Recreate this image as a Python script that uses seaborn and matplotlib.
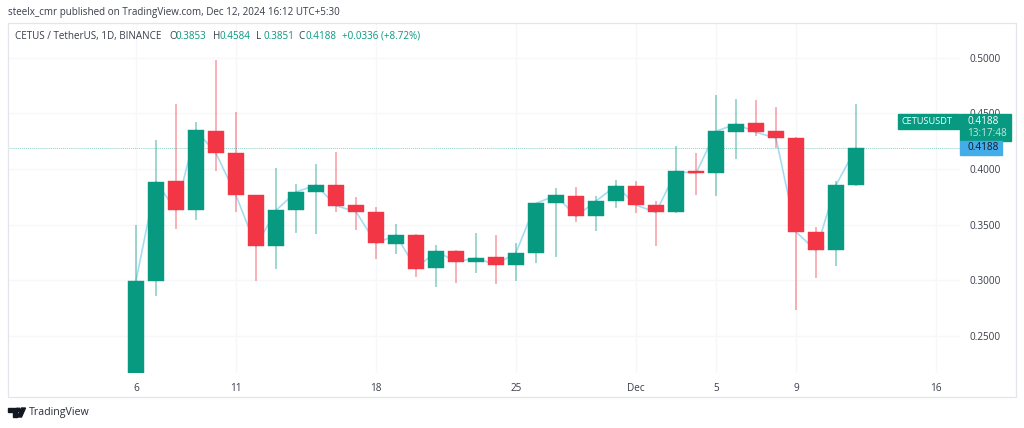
import matplotlib
matplotlib.use('Agg')
import matplotlib.pyplot as plt
from matplotlib.patches import Rectangle, Polygon
import pandas as pd
import seaborn as sns

# Daily candles, Nov 6 to Dec 12 2024
opens = [0.2168, 0.2994, 0.3891, 0.3628, 0.4343, 0.4143, 0.3763, 0.3311, 0.3628, 0.3790,
         0.3855, 0.3673, 0.3616, 0.3326, 0.3407, 0.3108, 0.3263, 0.3167, 0.3206, 0.3140,
         0.3245, 0.3691, 0.3757, 0.3574, 0.3712, 0.3849, 0.3676, 0.3610, 0.3978, 0.3960,
         0.4334, 0.4409, 0.4338, 0.4280, 0.3434, 0.3269, 0.3853]
highs = [0.3496, 0.4258, 0.4583, 0.4424, 0.4978, 0.4508, 0.3768, 0.4008, 0.3864, 0.4044,
         0.4149, 0.3745, 0.3661, 0.3508, 0.3416, 0.3317, 0.3275, 0.3422, 0.3407, 0.3332,
         0.3698, 0.3829, 0.3838, 0.3759, 0.3900, 0.3889, 0.3709, 0.4206, 0.4140, 0.4661,
         0.4627, 0.4616, 0.4556, 0.4289, 0.3478, 0.3891, 0.4584]
lows = [0.2168, 0.2859, 0.3463, 0.3541, 0.3984, 0.3613, 0.2996, 0.3101, 0.3425, 0.3413,
        0.3616, 0.3449, 0.3188, 0.3233, 0.3032, 0.2937, 0.2976, 0.3068, 0.2970, 0.2996,
        0.3158, 0.3206, 0.3523, 0.3445, 0.3652, 0.3607, 0.3311, 0.3601, 0.3766, 0.3757,
        0.4092, 0.4293, 0.4188, 0.2736, 0.3023, 0.3126, 0.3851]
closes = [0.2996, 0.3885, 0.3628, 0.4349, 0.4140, 0.3763, 0.3305, 0.3628, 0.3793, 0.3855,
          0.3670, 0.3616, 0.3332, 0.3407, 0.3104, 0.3263, 0.3167, 0.3200, 0.3140, 0.3248,
          0.3691, 0.3763, 0.3574, 0.3712, 0.3849, 0.3676, 0.3610, 0.3978, 0.3960, 0.4338,
          0.4403, 0.4329, 0.4277, 0.3434, 0.3269, 0.3855, 0.4188]
start_day = '2024-11-06'
x_tick_days = ['2024-11-06', '2024-11-11', '2024-11-18', '2024-11-25', '2024-12-01',
               '2024-12-05', '2024-12-09', '2024-12-16']
x_tick_labels = ['6', '11', '18', '25', 'Dec', '5', '9', '16']
y_ticks = [0.25, 0.30, 0.35, 0.40, 0.45, 0.50]
last_price = 0.4188

GREEN = '#089981'
RED = '#F23645'
TEXT = '#3a3e4a'
W, H = 1024, 428

df = pd.DataFrame({'open': opens, 'high': highs, 'low': lows, 'close': closes})
df['date'] = pd.date_range(start_day, periods=len(df))
up = df['close'] >= df['open']
df['color'] = up.map({True: GREEN, False: RED})

sns.set_theme(style='white')
plt.rcParams['font.family'] = ['Open Sans', 'DejaVu Sans']

fig = plt.figure(figsize=(W / 100, H / 100), dpi=100)
ax = fig.add_axes([8 / W, 1 - 373 / H, (960 - 8) / W, (373 - 23) / H])


def px(x, y):
    return x / W, 1 - y / H


def box(x0, y0, x1, y1, **kw):
    xf, yf = px(x0, y1)
    fig.patches.append(Rectangle((xf, yf), (x1 - x0) / W, (y1 - y0) / H,
                                 transform=fig.transFigure, figure=fig, **kw))


def label(x, y, s, color=TEXT, size=7.1, ha='left', **kw):
    xf, yf = px(x, y)
    fig.text(xf, yf, s, color=color, fontsize=size, ha=ha, va='center', zorder=8, **kw)


# close line sits behind the candles
sns.lineplot(data=df, x='date', y='close', color='#a6dcf2', lw=1.2, ax=ax, zorder=1)
ax.vlines(df['date'], df['low'], df['high'], colors=df['color'], lw=1.1, alpha=0.5, zorder=2)
ax.bar(df['date'], (df['close'] - df['open']).abs(), bottom=df[['open', 'close']].min(axis=1),
       width=0.78, color=df['color'], edgecolor=df['color'], lw=0.3, zorder=3)
ax.axhline(last_price, color=GREEN, lw=0.7, ls=(0, (1, 1)), alpha=0.45, zorder=1)

first = df['date'].iloc[0]
ax.set_xlim(first - pd.Timedelta(days=6.4), first + pd.Timedelta(days=41.2))
ax.set_ylim(0.2168, 0.531)
ax.set_xticks(pd.to_datetime(x_tick_days), x_tick_labels)
ax.set_yticks(y_ticks, [f'{v:.4f}' for v in y_ticks])
ax.yaxis.tick_right()
ax.tick_params(axis='both', length=0, labelsize=7.2, labelcolor=TEXT)
ax.tick_params(axis='x', pad=7)
ax.tick_params(axis='y', pad=7)
ax.grid(True, color='#f6f7f8', lw=0.9)
ax.set_axisbelow(True)
ax.set_xlabel('')
ax.set_ylabel('')
sns.despine(ax=ax, left=True, bottom=True, right=True, top=True)

# outer frame around chart and scales
box(8, 23, 1016, 397, fill=False, edgecolor='#e3e5ea', lw=0.9, zorder=4)

# header lines
label(8, 13, 'steelx_cmr published on TradingView.com, Dec 12, 2024 16:12 UTC+5:30')
label(15, 36.5, 'CETUS / TetherUS, 1D, BINANCE')
for x, letter, value in [(169, 'O', '0.3853'), (213, 'H', '0.4584'),
                         (256, 'L', '0.3851'), (298, 'C', '0.4188')]:
    label(x, 36.5, letter)
    label(x + 7, 36.5, value, color=GREEN)
label(342, 36.5, '+0.0336 (+8.72%)', color=GREEN)

# price tags on the right scale
box(898, 113.5, 959, 128.5, color=GREEN, zorder=5)
box(960, 113.5, 1011, 141, color=GREEN, zorder=5)
box(960, 141, 1001.5, 155, color='#42ade8', zorder=5)
label(902, 121, 'CETUSUSDT', color='white', size=6.6)
label(967, 121, '0.4188', color='white', size=7.2)
label(967, 133.5, '13:17:48', color='#c4e6df', size=7.2)
label(967, 148, '0.4188', color='#131722', size=7.2)

# TradingView logo
logo = [Polygon([px(8, 408), px(16.5, 408), px(16.5, 417), px(12.5, 417), px(12.5, 411.5), px(8, 411.5)]),
        Polygon([px(17.2, 408.3), px(19.6, 408.3), px(20.4, 410), px(19.6, 411.5), px(17.8, 411.5), px(17, 410)]),
        Polygon([px(21.5, 408), px(25.5, 408), px(21.5, 417), px(17.3, 417)])]
for part in logo:
    part.set(transform=fig.transFigure, figure=fig, color='#131722', zorder=5)
    fig.patches.append(part)
label(29, 413, 'TradingView', color='#2a2e39', size=7.7)

fig.savefig('out.png', dpi=100)
